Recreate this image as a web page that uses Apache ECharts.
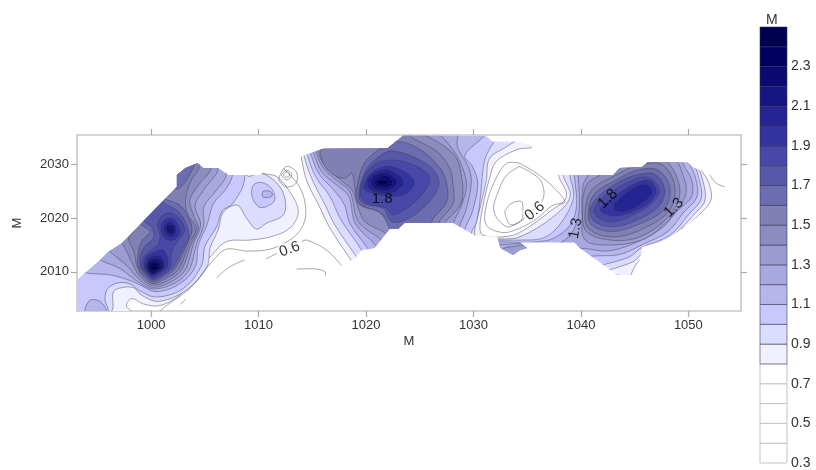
<!DOCTYPE html>
<html><head><meta charset="utf-8">
<style>html,body{margin:0;padding:0;background:#fff}#c{width:816px;height:470px}#c canvas{filter:blur(0.4px)}</style>
<script src="https://cdn.jsdelivr.net/npm/echarts@6/dist/echarts.min.js"></script>
</head><body><div id="c"></div>
<script>
// ---- tick labels ----
const xTicks=[1000,1010,1020,1030,1040,1050];
const yTicks=[2010,2020,2030];
const scaleLabels=[0.3,0.5,0.7,0.9,1.1,1.3,1.5,1.7,1.9,2.1,2.3];
// ---- colour scale: [from, to, colour] ----
const scaleBins=[[0.3,0.4,'#ffffff'],[0.4,0.5,'#ffffff'],[0.5,0.6,'#ffffff'],[0.6,0.7,'#ffffff'],[0.7,0.8,'#ffffff'],
[0.8,0.9,'#f0f0ff'],[0.9,1.0,'#dcdcff'],[1.0,1.1,'#c8c8ff'],[1.1,1.2,'#b6b6ec'],[1.2,1.3,'#a8a8e0'],[1.3,1.4,'#9c9cd2'],
[1.4,1.5,'#8c8cc0'],[1.5,1.6,'#8080b4'],[1.6,1.7,'#6c6cb0'],[1.7,1.8,'#5858aa'],[1.8,1.9,'#4848a8'],[1.9,2.0,'#3434a0'],
[2.0,2.1,'#242492'],[2.1,2.2,'#161682'],[2.2,2.3,'#0a0a70'],[2.3,2.4,'#000060'],[2.4,2.5,'#000050']];
// ---- surveyed area outline ----
const area=[[993,2008.3],[995.25,2012.2],[996,2013.7],[997.3,2015.35],[998.3,2017.4],[1002.4,2025.8],[1002.4,2028],[1003.2,2029.3],[1004.3,2030.2],[1004.85,2029.3],[1006.2,2029.3],[1007.2,2028],[1010.15,2028],[1010.8,2029.3],[1012.5,2030.2],[1013.9,2031.4],[1016,2032.9],[1022,2033],[1023.45,2035.3],[1031.1,2035.3],[1031.8,2034.2],[1034,2034.2],[1035.3,2033.6],[1035.5,2033],[1036.2,2030.4],[1037.9,2028],[1043,2028],[1043.6,2029.3],[1045.7,2029.5],[1046.2,2030.4],[1049.9,2030.4],[1050.4,2029.5],[1051.1,2028.9],[1052.2,2028.6],[1053.6,2026.1],[1052.2,2023],[1051.1,2020.6],[1049.5,2018.1],[1048.1,2016.3],[1047.35,2015.5],[1045.7,2014.6],[1045.5,2012.2],[1044.85,2009.4],[1043.4,2009.4],[1041.1,2012.7],[1039.9,2014.4],[1039.4,2015.5],[1034.3,2015.5],[1035,2014.4],[1034.3,2014],[1033.7,2013.1],[1032.5,2014.4],[1032.2,2016.5],[1030.1,2016.8],[1028.1,2019.1],[1023.6,2019.1],[1023,2018],[1022.2,2018],[1020.8,2014.4],[1019.6,2014],[1019,2012.5],[1017.8,2011.2],[1016.2,2009],[1013.6,2009.9],[1008.9,2011.8],[1006.1,2008.5],[1002.7,2003.4],[1000.8,2002.5],[993,2002.5]];
// ---- filled isolines, west ----
const w08=[[990,2040],[1009.5,2040],[1010.1,2028.9],[1011.7,2027.7],[1012.9,2024.9],[1013.7,2021.2],[1012.9,2018.1],[1011.1,2016.5],[1009.2,2015.9],[1007,2015.6],[1005.6,2013],[1003.4,2008],[1002.7,2005.7],[1000.8,2003.7],[999.3,2004],[998.2,2005],[997.7,2003.7],[998.2,2002.3],[990,2001.5]];
const w09=[[990,2040],[1009,2040],[1008.9,2028],[1010.3,2028.3],[1011.7,2026.5],[1012.45,2023.7],[1012.3,2020.6],[1010.7,2019],[1009.8,2017.95],[1008.9,2019.9],[1008,2022.4],[1006.7,2021.05],[1006.25,2017.8],[1005.5,2014.5],[1005.2,2010.9],[1003.3,2006.6],[1000.7,2004.5],[999.1,2005.65],[998.4,2007],[997.4,2007.1],[996.5,2006.3],[996.2,2002.5],[990,2001.5]];
const w10=[[990,2040],[1008,2040],[1008.7,2027.4],[1007.6,2022.7],[1006.6,2021.3],[1006.1,2018.4],[1005,2014.7],[1004.7,2011.2],[1003,2006.9],[1000.5,2005.3],[998.8,2006.6],[998.2,2007.6],[997.1,2008],[996,2007],[995.7,2005],[995.9,2002.5],[990,2001.5]];
const hump10=[[1009.5,2026.1],[1010.3,2026.6],[1011.2,2025.5],[1011.5,2023.35],[1010.7,2022.1],[1010,2022.1],[1009.4,2024]];
const hump11=[[1010.4,2024.9],[1011.05,2025],[1011.3,2024.3],[1010.9,2023.8],[1010.4,2023.97]];
const w11=[[990,2040],[1007,2040],[1007.6,2028.6],[1007,2025.5],[1005.8,2022.7],[1005.2,2018.7],[1004.4,2015],[1004.1,2010.9],[1002.7,2007.8],[1000.5,2006.3],[999,2007.5],[998,2008.4],[996.2,2009.4],[994.2,2009.7],[993.4,2010],[988,2012]];
const corner11=[[993.9,2002.5],[994.3,2004.7],[995.3,2004.4],[995.8,2002.5]];
const w12=[[990,2040],[1006,2040],[1007,2028.3],[1006.1,2025.2],[1004.9,2022.1],[1004.9,2018.7],[1004.2,2015],[1003.6,2010.6],[1002.4,2008.1],[1000.2,2006.8],[998.8,2008.1],[997.1,2010.6],[995.3,2012.2],[994.6,2013.7],[990,2020]];
const w13=[[990,2040],[1005.5,2040],[1006.25,2029.4],[1005,2025.5],[1004.1,2022.4],[1004.6,2018.7],[1003.9,2015],[1003.25,2010.6],[1002.1,2008.4],[1000.2,2007.1],[999,2008.4],[997.7,2011.2],[996.2,2013.7],[995.6,2015],[990,2025]];
const w14=[[990,2040],[1004.5,2040],[1005.6,2029.6],[1004.4,2026.1],[1003.6,2023.3],[1004,2020.2],[1004.4,2018.1],[1003.7,2015],[1002.9,2010.6],[1001.8,2008.6],[1000.2,2007.5],[999.1,2008.8],[998.4,2010.9],[997.3,2015.3],[996.5,2016.5],[990,2030]];
const w15=[[990,2040],[1003.5,2040],[1004.5,2030],[1003.6,2026.5],[1003.2,2023.4],[1003.4,2020.6],[1004.2,2018.1],[1003.5,2015],[1002.6,2010.6],[1001.5,2008.9],[1000.2,2007.8],[999.3,2008.9],[998.7,2010.9],[998.4,2013.7],[997.9,2016.2],[998.4,2017.8],[997.6,2018.7],[990,2035]];
const w16=[[1001.3,2023.5],[1002.85,2022.1],[1003.8,2018.1],[1003.3,2015],[1002.3,2010.8],[1001.3,2009.1],[1000.2,2008.1],[999.4,2009.1],[998.8,2010.9],[998.8,2013.4],[999.1,2015.6],[999.9,2017.5],[999.1,2018.7],[998.8,2019.6],[1000.1,2024.3]];
const patch16=[[1004.1,2030.2],[1003.3,2027.1],[1002.45,2025.4],[1001.6,2026.8],[1003,2031.7],[1004.2,2031.4]];
const w17=[[1001.5,2022.4],[1002.5,2021.3],[1003.3,2018.7],[1003.5,2016.2],[1002.9,2014],[1002.1,2011],[1001.2,2009.4],[1000.2,2008.4],[999.5,2009.4],[999,2010.9],[999,2013.1],[999.5,2014.9],[1000.2,2016.2],[1000.1,2018.1],[999.4,2019.3],[999.1,2020.6],[1000.5,2023.7]];
const w18=[[1001,2020.4],[1001.9,2020.9],[1002.85,2019.3],[1003.1,2017.5],[1002.45,2015.6],[1001.9,2013.7],[1001.8,2010.9],[1001.1,2009.6],[1000.2,2008.7],[999.6,2009.6],[999.1,2010.9],[999.3,2012.8],[1000.1,2014.2],[1000.7,2015.3],[1000.8,2017.1],[1000.6,2018.8]];
const n19=[[1001.2,2019.6],[1002,2019.9],[1002.5,2018.7],[1002.7,2017.1],[1002.1,2015.9],[1001.3,2016.2],[1000.9,2017.8]];
const s19=[[999.35,2010.9],[999.5,2012.6],[1000.2,2013.6],[1001.1,2014],[1001.5,2012.8],[1001.5,2010.9],[1000.9,2009.8],[1000.2,2009],[999.7,2009.7]];
const n20=[[1001.4,2019],[1001.9,2019.3],[1002.3,2018.2],[1002.2,2016.8],[1001.7,2016.5],[1001.2,2017.8]];
const s20=[[999.5,2010.9],[999.7,2012.3],[1000.4,2013],[1001.1,2012.5],[1001.2,2010.9],[1000.8,2010],[1000.2,2009.3],[999.75,2009.9]];
const n21=[[1001.5,2018.6],[1002,2018.6],[1002.2,2017.6],[1001.8,2017],[1001.4,2017.8]];
const s21=[[999.6,2010.9],[999.8,2012],[1000.4,2012.5],[1001,2012],[1001.1,2010.8],[1000.7,2010.1],[1000.2,2009.6],[999.8,2010]];
const n22=[[1001.7,2018.1],[1001.9,2018.1],[1001.9,2017.6],[1001.7,2017.6]];
const s22=[[999.7,2010.9],[999.9,2011.8],[1000.4,2012.1],[1000.8,2011.6],[1000.9,2010.6],[1000.6,2010.2],[1000.2,2009.7],[999.85,2010]];
const s23=[[999.8,2010.8],[1000,2011.5],[1000.4,2011.7],[1000.7,2011.2],[1000.8,2010.6],[1000.5,2010.2],[1000.2,2010.1],[999.9,2010.3]];
const s24=[[999.9,2010.7],[1000.15,2011.2],[1000.45,2011.1],[1000.6,2010.6],[1000.35,2010.3],[1000.05,2010.4]];
// ---- filled isolines, middle and east joined below the basin ----
const m08=[[1019,2011.2],[1018.5,2012.5],[1016.65,2018.1],[1015.6,2022.4],[1014.5,2026.8],[1014,2031.1],[1013.9,2033.6],[1020,2040],[1035,2040],[1035.7,2033.6],[1034,2032.7],[1032.1,2030.5],[1031.5,2027.4],[1030.9,2022.4],[1030.6,2018.1],[1030.9,2016.8],[1032.75,2016.5],[1034.3,2017.3],[1037.1,2021.2],[1038.65,2024],[1037.9,2028],[1037.6,2032],[1037.6,2040],[1050,2040],[1050.6,2031.1],[1051.1,2029.25],[1051.9,2026.5],[1052.1,2023.35],[1050.9,2020.4],[1048.8,2016.8],[1045.65,2012.5],[1045,2010.9],[1044.25,2008.1],[1043.5,2009.4],[1041,2010],[1036,2012],[1025,2012]];
const m09=[[1019.6,2011.2],[1019.1,2012.8],[1017.1,2018.7],[1016.2,2022.4],[1015,2027.1],[1014.3,2031.1],[1014.2,2033.6],[1020,2040],[1034.6,2038],[1034.6,2035.5],[1033.1,2033.3],[1031.5,2031.1],[1031.2,2027.1],[1030.6,2021.8],[1030.1,2017.5],[1030.4,2016.2],[1032.3,2016.1],[1034.3,2016.5],[1037.4,2020.2],[1039,2024],[1038.35,2027.9],[1038,2032],[1038,2040],[1050,2040],[1050.6,2030.8],[1051.2,2028],[1051.55,2023.35],[1050.5,2020.6],[1048.6,2016.8],[1045.55,2013.1],[1044.9,2011.9],[1042.55,2010.3],[1041.8,2010],[1036,2012],[1025,2012]];
const m10=[[1019.9,2012.5],[1019.6,2014],[1017.6,2019.9],[1016.65,2024],[1015.4,2027.4],[1014.65,2031.1],[1014.5,2033.6],[1020,2040],[1032.1,2038],[1032.1,2035.2],[1031.2,2031.7],[1030.9,2029.25],[1030.7,2024.9],[1030.3,2019.3],[1029.8,2017.1],[1030.3,2015.9],[1032.2,2015.9],[1034.3,2015.9],[1036.5,2016.3],[1038,2018.7],[1039.3,2023.7],[1039,2027.7],[1038.7,2032],[1038.7,2040],[1050,2040],[1050.5,2030.5],[1050.9,2028],[1051.2,2023.7],[1050,2020.6],[1048.3,2016.8],[1045.65,2014.5],[1044.55,2012.8],[1041.9,2011.2],[1041.3,2010.9],[1036,2012],[1025,2012]];
const m11=[[1020.5,2012.8],[1020.2,2014.2],[1018.5,2019],[1018,2022.4],[1017,2025.2],[1015.7,2028],[1015,2031.1],[1014.8,2033.6],[1020,2040],[1031.2,2038],[1031.2,2035.8],[1029.2,2031.7],[1029.9,2029.6],[1030.4,2026.5],[1029.9,2021.2],[1029.2,2017.8],[1029.35,2016.2],[1031.8,2015.7],[1032.3,2015.6],[1034.3,2015.5],[1035.9,2015.6],[1037.4,2016.2],[1039,2018.7],[1039.6,2022.4],[1039.4,2027.7],[1039.3,2032],[1039.3,2040],[1049,2040],[1050,2030.5],[1050.6,2028],[1050.8,2024],[1049.5,2020.9],[1048.1,2017.5],[1045.65,2015],[1043.6,2013.2],[1041,2012.9],[1040.5,2012.5],[1036,2012],[1025,2012]];
const m12=[[1021.15,2013.4],[1021,2014.7],[1019,2019],[1018.4,2024],[1017.3,2026.1],[1016,2028.3],[1015.3,2031.1],[1015.1,2033.6],[1020,2040],[1028.6,2038],[1028.6,2036.1],[1028.5,2033.3],[1029.5,2029.6],[1029.8,2026.8],[1029.35,2021.8],[1028.7,2018.4],[1028.6,2016.8],[1031.5,2015.6],[1032.4,2015.1],[1035.2,2015.3],[1036,2014.5],[1038.2,2015.5],[1039.4,2018.1],[1039.85,2021.8],[1039.75,2027.7],[1039.6,2032],[1039.6,2040],[1048,2040],[1049.5,2030.2],[1050.3,2027.1],[1050.3,2024],[1048.9,2021.2],[1047.7,2018.4],[1045.65,2015.9],[1042.7,2013.9],[1040.4,2014.3],[1039.6,2014.3],[1036,2012],[1025,2012]];
const tip13=[[1032.75,2014.2],[1033.7,2014.7],[1034.9,2014.85],[1034.9,2012.5],[1033.7,2011.9],[1032.75,2012.5]];
const c13=[[1021.8,2014.7],[1021.45,2015.9],[1019.3,2019.3],[1018.5,2024.9],[1017.4,2026.8],[1016.2,2028.9],[1015.5,2031.4],[1015.4,2033.6],[1020,2038],[1026.25,2036.1],[1028.1,2032.7],[1029,2029.25],[1029.35,2026.1],[1028.9,2022.4],[1028.1,2019],[1028,2017.5]];
const c14=[[1022.2,2015.9],[1021.9,2017.1],[1019.9,2019.3],[1019.3,2021.8],[1018.7,2025.2],[1017.6,2027.1],[1016.3,2029.6],[1015.7,2031.4],[1015.7,2033.6],[1020,2038],[1024.1,2036.1],[1025.9,2035],[1028.1,2032],[1028.75,2029.25],[1028.9,2023],[1027.3,2019],[1027.2,2017.8]];
const c15=[[1022.7,2016.8],[1022.4,2018],[1021.15,2021.2],[1019.45,2022.4],[1019,2025.2],[1018.7,2028.3],[1018,2027.4],[1017,2028],[1016,2030.2],[1016,2033.6],[1020,2037],[1023.6,2036.1],[1024.4,2034.8],[1026.6,2032.4],[1027.8,2029.25],[1028.1,2026.1],[1028.1,2022.7],[1026.9,2019.6],[1026.55,2018.1]];
const c16=[[1021.9,2033.6],[1023.3,2034.2],[1025.3,2032.4],[1026.9,2029.25],[1027.5,2026.5],[1027.5,2023],[1026.25,2019.9],[1025.9,2018.4],[1022.55,2017.1],[1022.1,2018.4],[1021.45,2020.9],[1019.9,2022.1],[1019.1,2023.35],[1019.2,2026.1],[1019.75,2029.9],[1020.7,2032]];
const c17=[[1022.4,2032.5],[1025.3,2030.5],[1026.6,2028],[1026.7,2025.5],[1025.3,2021.8],[1023.6,2019.6],[1022.4,2019.3],[1021.6,2021.8],[1020.05,2022.5],[1019.35,2023.7],[1019.9,2028.6],[1021,2031.1]];
const c18=[[1021,2030.2],[1022.55,2030.8],[1024.4,2029.9],[1025.8,2028],[1025.8,2026.1],[1024.4,2022.7],[1022.55,2020.6],[1021.9,2021.8],[1021.15,2022.2],[1019.9,2023],[1019.45,2024.6],[1019.9,2028]];
const c19=[[1020.4,2028.3],[1021.8,2029.6],[1023.3,2028.9],[1024.5,2026.8],[1023.8,2024.6],[1022.2,2024],[1020.7,2024.6],[1019.8,2025.5]];
const c20=[[1020.7,2028.3],[1021.9,2029],[1023,2028],[1023.5,2026.5],[1022.7,2024.9],[1021.6,2024.6],[1020.5,2025.2],[1020.1,2026.8]];
const c21=[[1020.8,2027.9],[1021.8,2028.4],[1022.55,2027.7],[1022.9,2026.5],[1022.2,2025.3],[1021.3,2025.2],[1020.6,2025.8],[1020.5,2027.1]];
const c22=[[1021.05,2027.4],[1021.8,2027.9],[1022.4,2027.1],[1022.4,2026.1],[1021.8,2025.65],[1021.05,2025.8],[1020.8,2026.65]];
const c23=[[1021.05,2026.9],[1021.8,2027.2],[1022.1,2026.65],[1021.7,2026.1],[1021.15,2026.3]];
const e13=[[1040.1,2020.9],[1040.2,2026.1],[1040.7,2028],[1041.8,2031.7],[1048.3,2031.7],[1049.7,2026.8],[1049.7,2024],[1048.75,2020.9],[1048,2019.3],[1046,2016.2],[1043,2015],[1040.4,2015.9]];
const e14=[[1040.15,2021.2],[1040.5,2026.1],[1041.8,2028],[1043.6,2029.6],[1045.2,2030.8],[1047.8,2030.8],[1049.2,2025.5],[1048.45,2020.9],[1045.5,2016.5],[1042.7,2015.9],[1040.5,2017.5]];
const e15=[[1040.4,2021.2],[1041,2025.2],[1043,2027.7],[1045,2029.6],[1047.5,2030],[1048.75,2025.8],[1048.1,2021.1],[1045.2,2017.5],[1042.7,2016.5],[1040.7,2018.1]];
const e16=[[1040.7,2021.5],[1041.3,2024.6],[1043.3,2027.1],[1045.2,2028.9],[1047.2,2028.9],[1048.3,2025.5],[1047.7,2021.5],[1045.2,2018.7],[1042.85,2017.5],[1041,2018.7]];
const e17=[[1040.85,2021.5],[1041.8,2024.3],[1043.6,2026.8],[1045.35,2028.1],[1046.9,2028.1],[1047.8,2025.2],[1047.2,2022.1],[1045.2,2019.6],[1043,2018.4],[1041.3,2019.3]];
const e18=[[1041.2,2021.5],[1042.4,2024.3],[1044.9,2027.1],[1046.4,2027.5],[1047.3,2025.2],[1046.7,2022.9],[1044.9,2020.6],[1043,2019.3],[1041.7,2020]];
const e19=[[1041.8,2021.5],[1043,2023.8],[1045,2026.4],[1046.4,2027],[1047,2025],[1046.4,2022.9],[1044.9,2021.2],[1043.1,2020.4]];
const e20=[[1043.2,2022.8],[1045,2025.7],[1046.2,2026.2],[1046.6,2024.6],[1045.6,2022.7],[1044.25,2021.3],[1043.2,2021.4]];
// ---- low isolines drawn as bare lines ----
const ring1=[[1012,2028],[1012.6,2029.6],[1013.5,2028.6],[1013.5,2026.5],[1012.6,2025.8],[1011.9,2027.1],[1012,2028]];
const ring2=[[1012.1,2028],[1012.6,2028.9],[1013.1,2028],[1012.6,2027.1],[1012.1,2028]];
const ring3=[[1012.3,2028],[1012.6,2028.6],[1012.9,2028],[1012.6,2027.6],[1012.3,2028]];
const west07=[[1000.7,2002.5],[1001.5,2003.8],[1003.6,2006.9],[1005.8,2012.2],[1007,2014.2],[1008.9,2013.85],[1011.05,2014.2],[1012.9,2015.9],[1014,2018.1],[1014.4,2021.2],[1013.9,2025.5],[1012.3,2029.25]];
const west06a=[[1002.7,2003.9],[1003.2,2004.9]];
const west06b=[[1006.1,2008.9],[1007.3,2010.9],[1008.7,2012.2]];
const west06c=[[1010.7,2012.4],[1011.7,2013.4]];
const west06d=[[1014,2015.6],[1014.5,2015.9],[1016.35,2014],[1017.7,2011.2]];
const west05=[[1013.55,2010.5],[1015.4,2010.5],[1016.2,2010],[1016.2,2009.3]];
const basin07=[[1034.3,2030.2],[1035.9,2028.3],[1037.4,2025.8],[1038.5,2023],[1037.4,2022.4],[1035.9,2019.9],[1034.3,2018.1],[1032.75,2017.3],[1031.2,2018.7],[1031.2,2022.4],[1032.1,2027.4],[1033.1,2030.2],[1034.3,2030.2]];
const basin06=[[1034.3,2029.6],[1036.2,2027.1],[1036.5,2023.7],[1035.25,2020.9],[1034.3,2019.3],[1033.1,2018.4],[1031.9,2021.2],[1032.3,2024.9],[1033.1,2028],[1034.3,2029.6]];
const basin05=[[1032.9,2021.2],[1033.5,2022.7],[1034.45,2023.1],[1034.6,2021.8],[1034.45,2019.6],[1033.4,2018.8],[1032.9,2021.2]];
const east07a=[[1052,2028],[1052.6,2026.5],[1053.4,2025.8]];
const east07b=[[1049.4,2018],[1049.85,2018.4]];
// ---- isoline labels: x, y, text, angle ----
const labelX=[1012.9,1021.5,1035.7,1039.5,1042.5,1048.65];
const labelY=[2014.2,2023.5,2021.3,2018.1,2023.6,2021.9];
const labelText=['0.6','1.8','0.6','1.3','1.8','1.3'];
const labelAngle=[20,0,40,80,45,45];

const bands=[[0.8,w08],[0.8,m08],[0.9,w09],[0.9,m09],[1.0,w10],[1.0,hump10],[1.0,m10],[1.1,w11],[1.1,hump11],[1.1,corner11],[1.1,m11],[1.2,w12],[1.2,m12],[1.3,w13],[1.3,c13],[1.3,e13],[1.3,tip13],[1.4,w14],[1.4,c14],[1.4,e14],[1.5,w15],[1.5,c15],[1.5,e15],[1.6,w16],[1.6,patch16],[1.6,c16],[1.6,e16],[1.7,w17],[1.7,c17],[1.7,e17],[1.8,w18],[1.8,c18],[1.8,e18],[1.9,n19],[1.9,s19],[1.9,c19],[1.9,e19],[2.0,n20],[2.0,s20],[2.0,c20],[2.0,e20],[2.1,n21],[2.1,s21],[2.1,c21],[2.2,n22],[2.2,s22],[2.2,c22],[2.3,s23],[2.3,c23],[2.4,s24]];
const bareLines=[ring1,ring2,ring3,west07,west06a,west06b,west06c,west06d,west05,basin07,basin06,basin05,east07a,east07b];

const colourOf=v=>{const b=scaleBins.find(s=>Math.abs(s[0]-v)<1e-6);return b?b[2]:'#fff';};
const TXT='Liberation Sans';
const LINE='rgba(60,60,75,0.5)';
const chart=echarts.init(document.getElementById('c'),null,{renderer:'canvas'});
function toPx(api,pts){return pts.map(p=>api.coord(p));}
function clipShape(api){return {type:'polygon',shape:{points:toPx(api,area)}};}
const frameAxis={axisLine:{show:true,onZero:false,lineStyle:{color:'#c8c8c8',width:1.6}},splitLine:{show:false}};
const tickStyle={show:true,length:6,lineStyle:{color:'#aaa',width:1.2}};
const plain=v=>String(v);
chart.setOption({
 animation:false,backgroundColor:'#fff',
 title:{text:'M',left:761,top:8,textStyle:{fontFamily:TXT,fontSize:14,fontWeight:'normal',color:'#333'}},
 grid:[{left:77,right:75,top:135,bottom:159},{left:760,width:27,top:27,height:438}],
 xAxis:[
  {type:'value',gridIndex:0,position:'bottom',min:993.1,max:1054.9,name:'M',nameLocation:'middle',nameGap:24,nameTextStyle:{fontFamily:TXT,fontSize:13,color:'#333'},...frameAxis,
   axisTick:{...tickStyle,customValues:xTicks},axisLabel:{show:true,customValues:xTicks,margin:8,fontFamily:TXT,fontSize:13,color:'#333',formatter:plain}},
  {type:'value',gridIndex:0,position:'top',min:993.1,max:1054.9,...frameAxis,axisTick:{...tickStyle,customValues:xTicks},axisLabel:{show:false}},
  {type:'value',gridIndex:1,min:0,max:1,show:false}],
 yAxis:[
  {type:'value',gridIndex:0,position:'left',min:2002.7,max:2035.45,name:'M',nameLocation:'middle',nameGap:53,nameRotate:90,nameTextStyle:{fontFamily:TXT,fontSize:13,color:'#333'},...frameAxis,
   axisTick:{...tickStyle,customValues:yTicks},axisLabel:{show:true,customValues:yTicks,margin:8,fontFamily:TXT,fontSize:13,color:'#333',formatter:plain}},
  {type:'value',gridIndex:0,position:'right',min:2002.7,max:2035.45,...frameAxis,axisTick:{...tickStyle,customValues:yTicks},axisLabel:{show:false}},
  {type:'value',gridIndex:1,position:'right',min:0.3,max:2.5,axisLine:{show:false},axisTick:{show:false},splitLine:{show:false},
   axisLabel:{show:true,customValues:scaleLabels,margin:4,fontFamily:TXT,fontSize:14,color:'#333',formatter:v=>v.toFixed(1)}}],
 series:[
  {type:'custom',coordinateSystem:'cartesian2d',xAxisIndex:0,yAxisIndex:0,clip:true,z:2,silent:true,
   data:bands.map((b,i)=>[i,b[0]]),encode:{x:[],y:[]},
   renderItem:(p,api)=>{const b=bands[p.dataIndex];
     return {type:'polygon',shape:{points:toPx(api,b[1]),smooth:0.35},clipPath:clipShape(api),
       style:{fill:colourOf(b[0]),stroke:LINE,lineWidth:0.9}};}},
  {type:'custom',coordinateSystem:'cartesian2d',xAxisIndex:0,yAxisIndex:0,clip:true,z:3,silent:true,
   data:bareLines.map((b,i)=>[i]),encode:{x:[],y:[]},
   renderItem:(p,api)=>({type:'polyline',shape:{points:toPx(api,bareLines[p.dataIndex]),smooth:0.35},clipPath:clipShape(api),
       style:{fill:null,stroke:LINE,lineWidth:0.9}})},
  {type:'scatter',xAxisIndex:0,yAxisIndex:0,z:5,silent:true,symbolSize:0,
   data:labelX.map((x,i)=>({value:[x,labelY[i]],label:{show:true,position:'inside',formatter:labelText[i],rotate:labelAngle[i],
     fontFamily:TXT,fontSize:15,color:'#000',textBorderColor:labelText[i]==='0.6'?'#fff':'transparent',textBorderWidth:labelText[i]==='0.6'?4:0}}))},
  {type:'custom',coordinateSystem:'cartesian2d',xAxisIndex:2,yAxisIndex:2,z:2,silent:true,
   data:scaleBins.map((b,i)=>[i]),encode:{x:[],y:[]},
   renderItem:(p,api)=>{const b=scaleBins[p.dataIndex];const a=api.coord([0,b[1]]),c=api.coord([1,b[0]]);
     return {type:'rect',shape:{x:a[0],y:a[1],width:c[0]-a[0],height:c[1]-a[1]},
       style:{fill:b[2],stroke:b[0]<0.8?'#c4c4c4':'rgba(50,50,80,0.55)',lineWidth:1}};}}
 ]
});
</script></body></html>
